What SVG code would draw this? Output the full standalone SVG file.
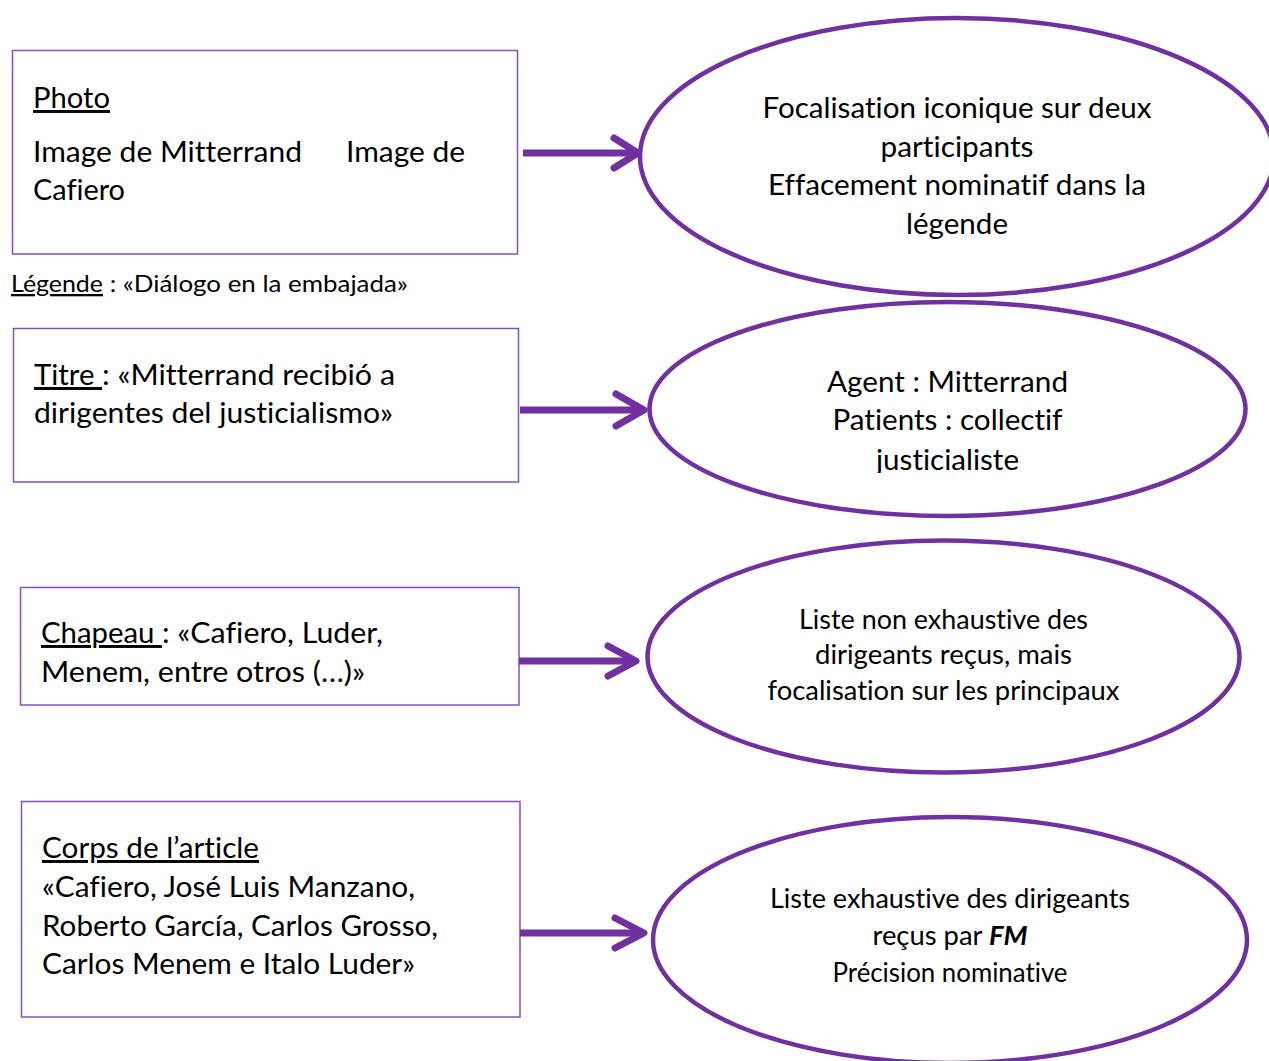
<svg xmlns="http://www.w3.org/2000/svg" width="1269" height="1061" viewBox="0 0 1269 1061">
<defs>
<style>
.box{fill:#ffffff;stroke:#8452BC;stroke-width:1.5}
.ell{fill:#ffffff;stroke:#7030A0;stroke-width:4.5}
.t{font-family:Lato,"Liberation Sans",sans-serif;fill:#000000;font-variant-ligatures:none;font-feature-settings:"liga" 0,"clig" 0,"dlig" 0}
.b{font-size:29.5px}
.s{font-size:27px}
.l{font-size:23px}
.m{text-anchor:middle}
.u{text-decoration:underline}
.shaft{stroke:#7030A0;stroke-width:7;fill:none}
.head{stroke:#7030A0;stroke-width:7;fill:none;stroke-linecap:round;stroke-linejoin:round}
</style>
<clipPath id="clipE2"><rect x="640" y="300" width="620" height="173"/></clipPath>
</defs>
<rect width="1269" height="1061" fill="#ffffff"/>

<g id="photo">
<rect class="box" x="12.5" y="50.5" width="505" height="203.5"/>
<text class="t b u" x="33" y="108" textLength="77" lengthAdjust="spacingAndGlyphs">Photo</text>
<text class="t b" x="33" y="162" textLength="269" lengthAdjust="spacingAndGlyphs">Image de Mitterrand</text>
<text class="t b" x="346" y="162" textLength="119" lengthAdjust="spacingAndGlyphs">Image de</text>
<text class="t b" x="33" y="200" textLength="92" lengthAdjust="spacingAndGlyphs">Cafiero</text>
</g>

<g id="legende">
<text class="t l" x="11" y="292"><tspan class="u" textLength="92" lengthAdjust="spacingAndGlyphs">Légende</tspan><tspan x="103" textLength="305" lengthAdjust="spacingAndGlyphs"> : «Diálogo en la embajada»</tspan></text>
</g>

<g id="titre">
<rect class="box" x="13.5" y="328.5" width="505" height="153.5"/>
<text class="t b" x="34" y="385"><tspan class="u" textLength="68" lengthAdjust="spacingAndGlyphs">Titre </tspan><tspan x="102" textLength="293" lengthAdjust="spacingAndGlyphs">: «Mitterrand recibió a</tspan></text>
<text class="t b" x="34" y="423" textLength="359" lengthAdjust="spacingAndGlyphs">dirigentes del justicialismo»</text>
</g>

<g id="chapeau">
<rect class="box" x="20.5" y="587.5" width="498.5" height="117.5"/>
<text class="t b" x="41" y="643"><tspan class="u" textLength="121" lengthAdjust="spacingAndGlyphs">Chapeau </tspan><tspan x="162" textLength="221" lengthAdjust="spacingAndGlyphs">: «Cafiero, Luder,</tspan></text>
<text class="t b" x="41" y="682" textLength="324" lengthAdjust="spacingAndGlyphs">Menem, entre otros (…)»</text>
</g>

<g id="corps">
<rect class="box" x="21.5" y="801.5" width="498.5" height="215.5"/>
<text class="t b u" x="42" y="858" textLength="217" lengthAdjust="spacingAndGlyphs">Corps de l’article</text>
<text class="t b" x="42" y="897" textLength="373" lengthAdjust="spacingAndGlyphs">«Cafiero, José Luis Manzano,</text>
<text class="t b" x="42" y="936" textLength="396" lengthAdjust="spacingAndGlyphs">Roberto García, Carlos Grosso,</text>
<text class="t b" x="42" y="974" textLength="373" lengthAdjust="spacingAndGlyphs">Carlos Menem e Italo Luder»</text>
</g>

<g id="e1">
<ellipse class="ell" cx="957" cy="156.5" rx="317" ry="138.5"/>
<text class="t b m" x="957" y="118" textLength="389" lengthAdjust="spacingAndGlyphs">Focalisation iconique sur deux</text>
<text class="t b m" x="957" y="157" textLength="153" lengthAdjust="spacingAndGlyphs">participants</text>
<text class="t b m" x="957" y="195" textLength="378" lengthAdjust="spacingAndGlyphs">Effacement nominatif dans la</text>
<text class="t b m" x="957" y="234" textLength="102" lengthAdjust="spacingAndGlyphs">légende</text>
</g>

<g id="e2">
<ellipse class="ell" cx="947.5" cy="409" rx="298" ry="107"/>
<g clip-path="url(#clipE2)">
<text class="t b m" x="947.5" y="392" textLength="241" lengthAdjust="spacingAndGlyphs">Agent : Mitterrand</text>
<text class="t b m" x="947.5" y="430" textLength="230" lengthAdjust="spacingAndGlyphs">Patients : collectif</text>
<text class="t b m" x="947.5" y="470" textLength="143" lengthAdjust="spacingAndGlyphs">justicialiste</text>
</g>
</g>

<g id="e3">
<ellipse class="ell" cx="943.5" cy="656.5" rx="296" ry="116"/>
<text class="t s m" x="943.5" y="629" textLength="289" lengthAdjust="spacingAndGlyphs">Liste non exhaustive des</text>
<text class="t s m" x="943.5" y="664" textLength="257" lengthAdjust="spacingAndGlyphs">dirigeants reçus, mais</text>
<text class="t s m" x="943.5" y="700" textLength="352" lengthAdjust="spacingAndGlyphs">focalisation sur les principaux</text>
</g>

<g id="e4">
<ellipse class="ell" cx="950" cy="940" rx="297" ry="123"/>
<text class="t s m" x="950" y="908" textLength="360" lengthAdjust="spacingAndGlyphs">Liste exhaustive des dirigeants</text>
<text class="t s m" x="950" y="945" textLength="155" lengthAdjust="spacingAndGlyphs">reçus par <tspan font-weight="bold" font-style="italic">FM</tspan></text>
<text class="t s m" x="950" y="982" textLength="235" lengthAdjust="spacingAndGlyphs">Précision nominative</text>
</g>

<g id="connectors">
<line class="shaft" x1="523" y1="153" x2="636" y2="153"/>
<polyline class="head" points="614,138 638,153 614,168"/>
<line class="shaft" x1="520" y1="410" x2="642" y2="410"/>
<polyline class="head" points="616,394 644,410 616,426"/>
<line class="shaft" x1="519" y1="661" x2="634" y2="661"/>
<polyline class="head" points="608,646 636,661 608,676"/>
<line class="shaft" x1="520" y1="933" x2="642" y2="933"/>
<polyline class="head" points="615,918 644,933 615,948"/>
</g>
</svg>
